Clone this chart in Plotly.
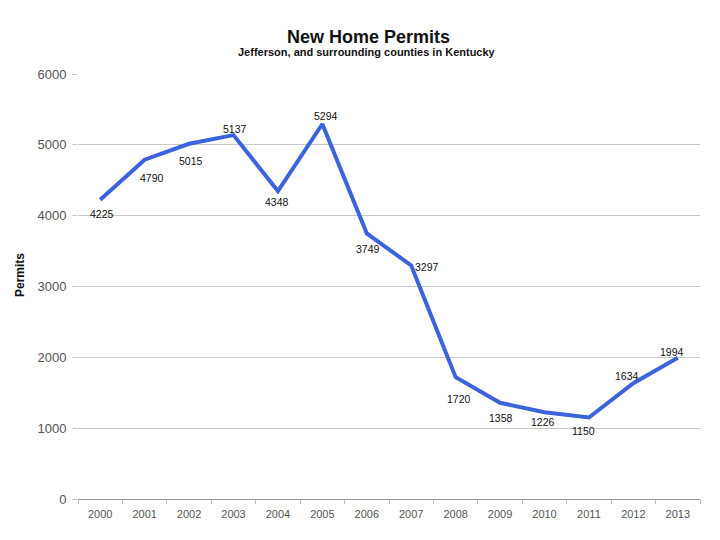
import plotly.graph_objects as go

years = ["2000", "2001", "2002", "2003", "2004", "2005", "2006",
         "2007", "2008", "2009", "2010", "2011", "2012", "2013"]
permits = [4225, 4790, 5015, 5137, 4348, 5294, 3749,
           3297, 1720, 1358, 1226, 1150, 1634, 1994]
y_ticks = [0, 1000, 2000, 3000, 4000, 5000, 6000]

# label offsets in pixels (dx right, dy down) -- style only
label_dx = [2, 7, 2, 1, -1, 4, 1, 16, 3, 1, -2, -5, -6, -6]
label_dy = [14, 18, 17, -6, 11, -8, 16, 2, 22, 15, 10, 13, -7, -6]

OFF = 8  # body margin of page
L, R, T, B = 78 - OFF, 720 - 700 + OFF, 74 - OFF, 540 - 499 + OFF
pw, ph = 720 - L - R, 540 - T - B

def px(xs, ys):
    return (xs - OFF - L) / pw, 1 - (ys - OFF - T) / ph

fig = go.Figure()
fig.add_trace(go.Scatter(
    x=years, y=permits, mode="lines",
    line=dict(color="#3c63dc", width=4),
    showlegend=False, hoverinfo="x+y",
))

anns = []
for i, (v, dx, dy) in enumerate(zip(permits, label_dx, label_dy)):
    anns.append(dict(x=i, y=v, xref="x", yref="y", text=str(v), showarrow=False,
                     xshift=dx, yshift=-dy, xanchor="center", yanchor="middle",
                     font=dict(family="Liberation Sans, Arial, sans-serif", size=10.5, color="#111")))

for txt, sx, sy, size, ang in [
    ("<b>New Home Permits</b>", 368, 37, 18, 0),
    ("<b>Jefferson, and surrounding counties in Kentucky</b>", 367, 52, 11, 0),
    ("<b>Permits</b>", 20, 275, 12, -90),
]:
    ax, ay = px(sx, sy)
    anns.append(dict(text=txt, x=ax, y=ay, xref="paper", yref="paper", showarrow=False,
                     xanchor="center", yanchor="middle", textangle=ang,
                     font=dict(family="Liberation Sans, Arial", size=size, color="#111")))

fig.update_layout(
    width=720, height=540,
    margin=dict(l=L, r=R, t=T, b=B),
    paper_bgcolor="white", plot_bgcolor="white",
    annotations=anns,
)

fig.update_xaxes(
    type="category", tickson="boundaries", ticks="outside", ticklen=4,
    tickcolor="#bbb", showline=True, linecolor="#999", linewidth=1,
    showgrid=False, tickfont=dict(family="Liberation Sans, Arial", size=11, color="#555"),
    range=[-0.5, 13.5], ticklabelstandoff=5, automargin=False,
)
fig.update_yaxes(
    range=[0, 6000], tickvals=y_ticks, showgrid=True, gridcolor="#c8c8c8",
    gridwidth=1, zeroline=False, ticks="outside", ticklen=5, tickcolor="#c8c8c8",
    tickfont=dict(family="Liberation Sans, Arial", size=13, color="#555"),
    ticklabelstandoff=3, automargin=False,
)

fig.write_html("out.html")
